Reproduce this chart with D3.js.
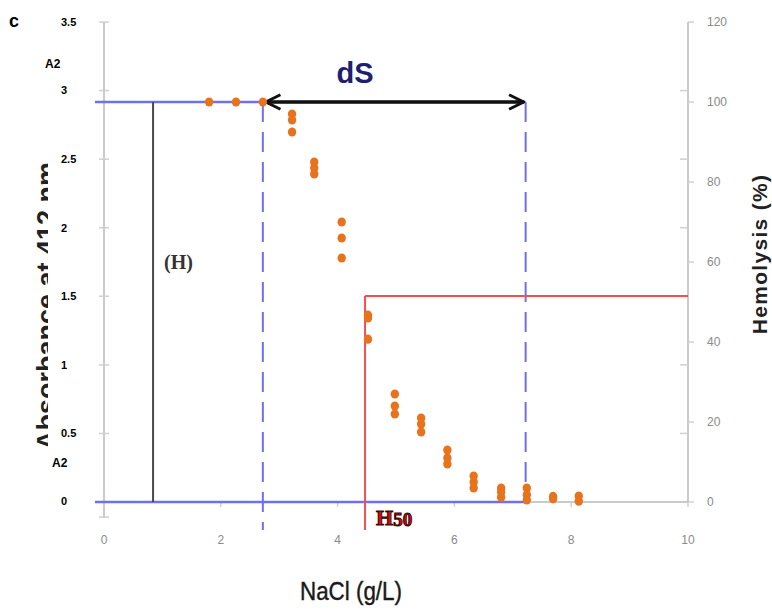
<!doctype html>
<html>
<head>
<meta charset="utf-8">
<script src="https://cdn.jsdelivr.net/npm/d3@7"></script>
<style>
html,body{margin:0;background:#fff;overflow:hidden;}
text{font-family:"Liberation Sans",Arial,sans-serif;}
</style>
</head>
<body>
<script>
// NaCl concentration (g/L) of each measured point and its hemolysis (%)
var nacl = [1.8, 2.26, 2.72,
            3.22, 3.22, 3.22,
            3.6, 3.6, 3.6,
            4.07, 4.07, 4.07,
            4.52, 4.52, 4.52,
            4.98, 4.98, 4.98,
            5.43, 5.43, 5.43,
            5.88, 5.88, 5.88,
            6.33, 6.33, 6.33,
            6.8, 6.8, 6.8,
            7.24, 7.24, 7.24,
            7.69, 7.69,
            8.13, 8.13];
var hemolysis = [100, 100, 100,
                 97, 95.5, 92.5,
                 85, 83.5, 82,
                 70, 66, 61,
                 46.7, 46, 40.7,
                 27, 24, 22,
                 21, 19.5, 17.5,
                 13, 11, 9.5,
                 6.5, 5, 3.5,
                 3.5, 2.5, 1.2,
                 3.5, 1.8, 0.5,
                 1.4, 0.8,
                 1.5, 0.2];

var xTicks = [0, 2, 4, 6, 8, 10];
var absTicks = [0, 0.5, 1, 1.5, 2, 2.5, 3, 3.5];
var hemoTicks = [0, 20, 40, 60, 80, 100, 120];

// reference markers
var hX = 0.84;          // (H)
var dsStart = 2.72, dsEnd = 7.22;
var h50X = 4.47, h50Y = 51.5;
var topLevel = 100;     // A2 plateau, in % hemolysis

var W = 772, H = 612;
var svg = d3.select("body").append("svg").attr("width", W).attr("height", H);

var x = d3.scaleLinear().domain([0, 10]).range([104, 688]);
var yL = d3.scaleLinear().domain([0, 3.5]).range([502, 22]);
var yR = d3.scaleLinear().domain([0, 120]).range([502, 22]);

var axisGray = "#b8b8b8", tickText = "#8a8a8a";

// left axis line + crossing ticks
svg.append("line").attr("x1", x(0)).attr("x2", x(0)).attr("y1", yL(3.5)).attr("y2", 517)
  .attr("stroke", axisGray).attr("stroke-width", 1.5);
svg.selectAll(".ltick").data(absTicks.concat([-0.11])).enter().append("line")
  .attr("x1", x(0) - 5).attr("x2", x(0) + 5)
  .attr("y1", d => yL(d)).attr("y2", d => yL(d))
  .attr("stroke", "#d0d0d0").attr("stroke-width", 1.5);
svg.selectAll(".llab").data(absTicks).enter().append("text")
  .attr("x", 61).attr("y", d => yL(d) - (d === 0 ? 1 : 0))
  .attr("dy", "0.35em").attr("font-size", 11).attr("font-weight", "bold")
  .text(d => d);
svg.append("text").attr("x", 45).attr("y", 68).attr("font-size", 12).attr("font-weight", "bold").text("A2");
svg.append("text").attr("x", 52).attr("y", 467).attr("font-size", 12).attr("font-weight", "bold").text("A2");
svg.append("text").attr("x", 9).attr("y", 27).attr("font-size", 18).attr("font-weight", "bold").text("c");

// left axis title, half hidden behind the tick labels as in the figure
svg.append("clipPath").attr("id", "lclip").append("rect")
  .attr("x", 20).attr("y", 150).attr("width", 28).attr("height", 310);
svg.append("g").attr("clip-path", "url(#lclip)")
  .append("text")
  .attr("transform", "translate(56,306) rotate(-90)")
  .attr("text-anchor", "middle").attr("font-size", 27).attr("font-weight", "bold")
  .attr("fill", "#222").text("Absorbance at 412 nm");

// bottom axis
svg.append("line").attr("x1", x(0)).attr("x2", x(10)).attr("y1", yR(0)).attr("y2", yR(0))
  .attr("stroke", axisGray).attr("stroke-width", 1.5);
svg.selectAll(".xtick").data(xTicks).enter().append("line")
  .attr("x1", d => x(d)).attr("x2", d => x(d)).attr("y1", yR(0)).attr("y2", yR(0) + 5)
  .attr("stroke", "#d0d0d0").attr("stroke-width", 1.5);
svg.selectAll(".xlab").data(xTicks).enter().append("text")
  .attr("x", d => x(d)).attr("y", 544).attr("text-anchor", "middle")
  .attr("font-size", 12).attr("fill", tickText).text(d => d);
svg.append("text").attr("x", 300).attr("y", 600)
  .attr("font-size", 25).attr("fill", "#1a1a1a").attr("stroke", "#1a1a1a").attr("stroke-width", 0.4)
  .attr("textLength", 102).attr("lengthAdjust", "spacingAndGlyphs")
  .text("NaCl (g/L)");

// right axis
svg.append("line").attr("x1", x(10)).attr("x2", x(10)).attr("y1", yR(120)).attr("y2", yR(0))
  .attr("stroke", axisGray).attr("stroke-width", 1.5);
svg.selectAll(".rtick").data(hemoTicks).enter().append("line")
  .attr("x1", x(10)).attr("x2", x(10) + 6)
  .attr("y1", d => yR(d)).attr("y2", d => yR(d))
  .attr("stroke", "#d0d0d0").attr("stroke-width", 1.5);
svg.selectAll(".rtick2").data(absTicks.slice(1, 7)).enter().append("line")
  .attr("x1", x(10) - 8).attr("x2", x(10))
  .attr("y1", d => yL(d)).attr("y2", d => yL(d))
  .attr("stroke", "#d0d0d0").attr("stroke-width", 1.5);
svg.selectAll(".rlab").data(hemoTicks).enter().append("text")
  .attr("x", 707).attr("y", d => yR(d)).attr("dy", "0.35em")
  .attr("font-size", 12).attr("fill", tickText).text(d => d);
svg.append("text").attr("transform", "translate(767,254) rotate(-90)")
  .attr("text-anchor", "middle").attr("font-size", 21).attr("font-weight", "bold")
  .attr("letter-spacing", 1.3)
  .attr("fill", "#222").text("Hemolysis (%)");

// blue reference lines
var blue = "#6f6ff0";
svg.append("line").attr("x1", 95).attr("x2", x(dsEnd)).attr("y1", yR(topLevel)).attr("y2", yR(topLevel))
  .attr("stroke", blue).attr("stroke-width", 2.5);
svg.append("line").attr("x1", 95).attr("x2", x(dsEnd)).attr("y1", yR(0)).attr("y2", yR(0))
  .attr("stroke", blue).attr("stroke-width", 2.5);
svg.append("line").attr("x1", x(dsStart)).attr("x2", x(dsStart)).attr("y1", yR(topLevel)).attr("y2", 530)
  .attr("stroke", blue).attr("stroke-width", 2).attr("stroke-dasharray", "20,10");
svg.append("line").attr("x1", x(dsEnd)).attr("x2", x(dsEnd)).attr("y1", yR(topLevel)).attr("y2", yR(0))
  .attr("stroke", blue).attr("stroke-width", 2).attr("stroke-dasharray", "20,10");

// (H) line
svg.append("line").attr("x1", x(hX)).attr("x2", x(hX)).attr("y1", yR(topLevel)).attr("y2", yR(0))
  .attr("stroke", "#4a4a4a").attr("stroke-width", 2);
svg.append("text").attr("x", 164).attr("y", 269).attr("font-size", 20).attr("font-weight", "bold")
  .attr("fill", "#333").style("font-family", "'Liberation Serif',serif").text("(H)");

// H50 lines
var red = "#f05050";
svg.append("line").attr("x1", x(h50X)).attr("x2", x(h50X)).attr("y1", yR(h50Y)).attr("y2", 530)
  .attr("stroke", red).attr("stroke-width", 2);
svg.append("line").attr("x1", x(h50X)).attr("x2", x(10)).attr("y1", yR(h50Y)).attr("y2", yR(h50Y))
  .attr("stroke", red).attr("stroke-width", 2);
var h50 = svg.append("text").attr("x", 376).attr("y", 525).attr("font-weight", "bold")
  .attr("fill", "#d01010").attr("stroke", "#3a0000").attr("stroke-width", 1)
  .style("font-family", "'Liberation Serif',serif");
h50.append("tspan").attr("font-size", 22).text("H");
h50.append("tspan").attr("font-size", 19).attr("dy", 1).text("50");

// dS arrow
var defs = svg.append("defs");
["start", "end"].forEach(function (k) {
  defs.append("marker").attr("id", "arr-" + k)
    .attr("viewBox", "0 0 12 12").attr("refX", k === "start" ? 1 : 11).attr("refY", 6)
    .attr("markerWidth", 5).attr("markerHeight", 5).attr("markerUnits", "strokeWidth")
    .attr("orient", "auto")
    .append("path")
    .attr("d", k === "start" ? "M11,1 L1,6 L11,11" : "M1,1 L11,6 L1,11")
    .attr("fill", "none").attr("stroke", "#111").attr("stroke-width", 2);
});
svg.append("line").attr("x1", x(dsStart) + 3).attr("x2", x(dsEnd) - 2)
  .attr("y1", yR(topLevel)).attr("y2", yR(topLevel))
  .attr("stroke", "#111").attr("stroke-width", 3.5)
  .attr("marker-start", "url(#arr-start)").attr("marker-end", "url(#arr-end)");
svg.append("text").attr("x", 355).attr("y", 83).attr("text-anchor", "middle")
  .attr("font-size", 29).attr("font-weight", "bold").attr("fill", "#1f1f70").text("dS");

// points
svg.selectAll(".pt").data(nacl).enter().append("ellipse")
  .attr("cx", d => x(d)).attr("cy", (d, i) => yR(hemolysis[i]))
  .attr("rx", 4.2).attr("ry", 4.6).attr("fill", "#e8731c");
</script>
</body>
</html>
